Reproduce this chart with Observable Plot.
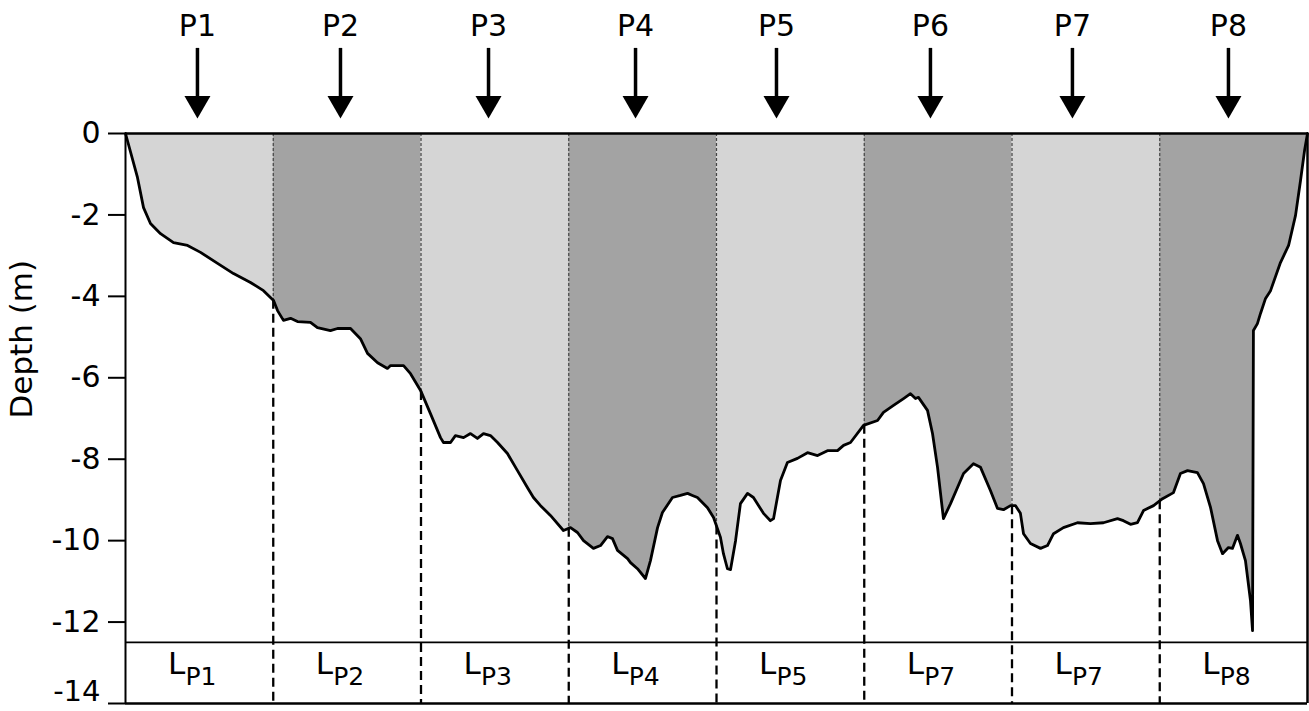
<!DOCTYPE html>
<html>
<head>
<meta charset="utf-8">
<script src="https://cdn.jsdelivr.net/npm/d3@7"></script>
<script src="https://cdn.jsdelivr.net/npm/@observablehq/plot@0.6"></script>
<style>
  html, body { margin: 0; padding: 0; background: #ffffff; }
  #chart svg { display: block; }
</style>
</head>
<body>
<div id="chart"></div>
<script>
// ---- Data ----
// Along-profile distance (arbitrary units, 100 per section) and bed depth (m)
const profileDist = [
  0,8.1,12.2,16.9,23.7,32.5,42.0,50.8,62.3,73.1,
  84.6,93.4,100.2,102.9,106.9,111.7,116.4,125.2,129.9,138.7,
  143.5,152.3,159.0,163.8,170.6,177.3,179.4,188.2,192.9,199.7,
  206.4,213.2,215.2,220.0,223.3,228.8,233.5,238.2,242.3,247.0,
  251.8,258.5,265.3,272.1,276.1,280.9,287.6,296.4,301.2,305.9,
  310.0,316.7,321.5,326.2,329.6,333.0,339.8,341.8,346.5,351.9,
  355.3,360.1,363.4,370.2,375.6,380.4,383.7,387.1,393.9,398.0,
  402.7,404.7,407.4,409.5,412.9,416.2,421.0,425.0,431.8,436.5,
  438.6,443.3,448.0,454.8,461.6,468.4,475.1,481.9,486.0,490.7,
  499.5,509.0,513.0,519.8,526.6,531.3,534.7,536.7,542.8,546.2,
  549.6,553.6,558.4,567.2,573.9,578.7,585.4,590.2,594.2,599.0,
  602.4,605.7,607.8,612.5,619.3,624.0,628.1,634.8,644.3,653.1,
  661.9,671.4,675.4,680.2,684.9,689.0,695.8,701.9,709.3,714.0,
  718.8,725.5,729.6,734.4,739.1,742.5,746.5,749.2,752.6,754.6,
  758.0,761.4,762.8,763.4,766.1,768.2,771.6,775.0,781.7,787.2,
  791.9,795.3,798.0,800
];
const profileDepth = [
  0,-1.08,-1.82,-2.21,-2.46,-2.68,-2.75,-2.92,-3.19,-3.44,
  -3.66,-3.86,-4.10,-4.35,-4.59,-4.54,-4.62,-4.64,-4.77,-4.84,
  -4.79,-4.79,-5.04,-5.40,-5.63,-5.77,-5.70,-5.70,-5.90,-6.31,
  -6.88,-7.47,-7.59,-7.59,-7.42,-7.47,-7.37,-7.49,-7.37,-7.42,
  -7.59,-7.86,-8.28,-8.70,-8.94,-9.14,-9.38,-9.75,-9.68,-9.80,
  -10.00,-10.19,-10.12,-9.90,-9.95,-10.24,-10.44,-10.54,-10.69,-10.93,
  -10.49,-9.68,-9.31,-8.94,-8.89,-8.84,-8.89,-8.94,-9.19,-9.43,
  -9.92,-10.32,-10.69,-10.71,-10.00,-9.09,-8.84,-8.94,-9.33,-9.51,
  -9.46,-8.52,-8.08,-7.98,-7.84,-7.91,-7.79,-7.79,-7.66,-7.59,
  -7.17,-7.05,-6.85,-6.68,-6.51,-6.39,-6.51,-6.48,-6.80,-7.37,
  -8.20,-9.46,-9.09,-8.35,-8.11,-8.20,-8.77,-9.21,-9.24,-9.14,
  -9.14,-9.33,-9.83,-10.07,-10.19,-10.12,-9.83,-9.68,-9.56,-9.58,
  -9.56,-9.46,-9.51,-9.60,-9.56,-9.26,-9.14,-8.97,-8.82,-8.35,
  -8.28,-8.33,-8.60,-9.19,-10.00,-10.32,-10.17,-10.19,-9.87,-10.07,
  -10.49,-11.47,-12.21,-4.84,-4.67,-4.42,-4.05,-3.86,-3.17,-2.75,
  -2.01,-1.15,-0.42,0
];
// Section boundaries along the profile
const sectionBounds = [0, 100, 200, 300, 400, 500, 600, 700, 800];
// Sampling stations (arrows on top)
const stationNames = ["P1","P2","P3","P4","P5","P6","P7","P8"];
const stationDist = [48.7, 145.5, 245.7, 345.2, 440.6, 544.8, 640.9, 746.5];
// Section labels in the bottom strip: "L" + subscript
const legendMain = "L";
const legendSub = ["P1","P2","P3","P4","P5","P7","P7","P8"];
// Y ticks
const yTicks = [0, -2, -4, -6, -8, -10, -12, -14];
const yTicksBottom = [-14];
const yLabel = "Depth (m)";
const stripDepth = -12.5;

// ---- Derived tables ----
const profile = profileDist.map((x, i) => ({x, y: profileDepth[i]}));
function depthAt(x) {
  for (let i = 0; i < profile.length - 1; i++) {
    const a = profile[i], b = profile[i + 1];
    if (x >= a.x && x <= b.x) {
      if (b.x === a.x) return a.y;
      return a.y + (b.y - a.y) * (x - a.x) / (b.x - a.x);
    }
  }
  return 0;
}
const lightRows = [], darkRows = [];
for (let s = 0; s < sectionBounds.length - 1; s++) {
  const x0 = sectionBounds[s], x1 = sectionBounds[s + 1];
  const pts = [{x: x0, y: depthAt(x0), s}]
    .concat(profile.filter(d => d.x > x0 && d.x < x1).map(d => ({...d, s})))
    .concat([{x: x1, y: depthAt(x1), s}]);
  (s % 2 === 0 ? lightRows : darkRows).push(...pts);
}
const inner = sectionBounds.slice(1, -1).map(b => ({x: b, d: depthAt(b)}));
const centers = sectionBounds.slice(0, -1).map((b, i) => ({
  x: (b + sectionBounds[i + 1]) / 2, sub: legendSub[i]
}));
const stations = stationNames.map((n, i) => ({name: n, x: stationDist[i]}));

const FONT = "DejaVu Sans, Liberation Sans, Arial, sans-serif";
const LIGHT = "#d5d5d5", DARK = "#a3a3a3";

const chart = Plot.plot({
  width: 1309,
  height: 711,
  marginLeft: 125,
  marginRight: 2,
  marginTop: 133,
  marginBottom: 8,
  style: {fontFamily: FONT, background: "#ffffff", overflow: "visible", color: "#000"},
  x: {domain: [0, 800], axis: null},
  y: {domain: [-14, 0], axis: null},
  marks: [
    // shaded sections (between surface and bed)
    Plot.areaY(lightRows, {x: "x", y1: 0, y2: "y", z: "s", fill: LIGHT}),
    Plot.areaY(darkRows, {x: "x", y1: 0, y2: "y", z: "s", fill: DARK}),
    // thin dashed boundaries inside the water column
    Plot.ruleX(inner, {x: "x", y1: 0, y2: "d", stroke: "#444", strokeWidth: 1.2, strokeDasharray: "3,2"}),
    // thick dashed boundaries below the bed
    Plot.ruleX(inner, {x: "x", y1: "d", y2: -14, stroke: "#000", strokeWidth: 2.3, strokeDasharray: "9,5"}),
    // bed profile
    Plot.line(profile, {x: "x", y: "y", stroke: "#000", strokeWidth: 2.8, curve: "linear"}),
    // frame
    Plot.ruleY([0], {stroke: "#000", strokeWidth: 2.5}),
    Plot.ruleY([stripDepth], {stroke: "#000", strokeWidth: 1.8}),
    Plot.ruleY([-14], {stroke: "#000", strokeWidth: 2.5}),
    Plot.ruleX([0], {stroke: "#000", strokeWidth: 2}),
    Plot.ruleX([800], {stroke: "#000", strokeWidth: 2.5}),
    // y axis (the bottom label is lifted slightly so it stays inside the picture)
    Plot.axisY({
      ticks: yTicks, tickSize: 17, tickPadding: 8, fontSize: 30, strokeWidth: 2, label: null,
      tickFormat: d => (yTicksBottom.includes(d) ? "" : String(d))
    }),
    Plot.text(yTicksBottom, {y: d => d, frameAnchor: "left", textAnchor: "end", dx: -25, dy: -12,
      text: d => String(d), fontSize: 29, fill: "#000"}),
    Plot.text([yLabel], {frameAnchor: "left", dx: -103, rotate: -90, fontSize: 31, fill: "#000"}),
    // station arrows and labels
    Plot.ruleX(stations, {x: "x", y1: 2.09, y2: 0.9, stroke: "#000", strokeWidth: 3.5}),
    Plot.dot(stations, {x: "x", y: 0.737, symbol: "triangle", rotate: 180, r: 9.65, fill: "#000", stroke: null}),
    Plot.text(stations, {x: "x", y: 2.63, text: "name", fontSize: 30, fill: "#000"}),
    // bottom strip labels
    Plot.text(centers, {x: "x", y: -13.03, text: () => legendMain, textAnchor: "end", dx: -14, fontSize: 31, fill: "#000"}),
    Plot.text(centers, {x: "x", y: -13.36, text: "sub", textAnchor: "start", dx: -14, fontSize: 25, fill: "#000"})
  ]
});
document.getElementById("chart").appendChild(chart);
</script>
</body>
</html>
